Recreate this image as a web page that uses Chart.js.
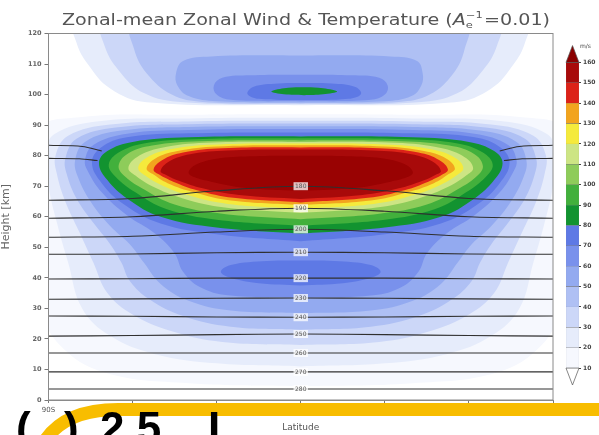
<!DOCTYPE html>
<html><head><meta charset="utf-8">
<script src="https://cdn.jsdelivr.net/npm/chart.js@4.4.1/dist/chart.umd.min.js"></script>
<style>
html,body{margin:0;padding:0;background:#fff;overflow:hidden;}
#wrap{position:relative;width:599px;height:435px;overflow:hidden;}
#main{position:absolute;left:0;top:0;}
#bar{position:absolute;left:556px;top:40px;}
</style></head><body>
<div id="wrap"><canvas id="main" width="599" height="435"></canvas><canvas id="bar" width="43" height="352"></canvas></div>
<script>
// Wind speed contour levels (m/s) and the shade used above each level
const windLevels = [10,20,30,40,50,60,70,80,90,100,110,120,130,140,150,160];
const levelColors = ['#f6f8fe','#e6ecfb','#ccd7f8','#afc0f4','#93aaf0','#7991ec','#5e79e5',
                     '#129330','#42b03c','#8ecc5a','#cde584','#f5ea3c','#f2a41e','#dc2218','#a80a0a','#990202'];
const latTicks = [-90,-60,-30,0,30,60,90];
const latTickLabels = ['90S','60S','30S','EQ','30N','60N','90N'];

// Contour outlines, [latitude (deg), height (km)]
// mesospheric jet
const jet80  = [[0,54.5],[-30,56.5],[-50,60],[-62,66],[-69,72],[-72,77.5],[-69,81.5],[-60,84.5],[-40,86],[0,86.3],[40,86],[60,84.5],[69,81.5],[72,77.5],[69,72],[62,66],[50,60],[30,56.5],[0,54.5]];
const jet90  = [[0,57],[-30,59],[-48,62.5],[-59,68],[-66,73],[-68.5,77],[-65,81],[-56,84],[-38,85.4],[0,85.7],[38,85.4],[56,84],[65,81],[68.5,77],[66,73],[59,68],[48,62.5],[30,59],[0,57]];
const jet100 = [[0,59.2],[-28,61],[-45,64],[-56,69],[-62.5,73],[-65,76.5],[-62,80.5],[-53,83.3],[-36,84.7],[0,85],[36,84.7],[53,83.3],[62,80.5],[65,76.5],[62.5,73],[56,69],[45,64],[28,61],[0,59.2]];
const jet110 = [[0,61.2],[-27,63],[-42,66],[-53,70],[-59,73.5],[-61.5,76],[-58.5,79.5],[-50,82.5],[-34,84.2],[0,84.5],[34,84.2],[50,82.5],[58.5,79.5],[61.5,76],[59,73.5],[53,70],[42,66],[27,63],[0,61.2]];
const jet120 = [[0,62.6],[-26,64.2],[-40,67],[-50,70.5],[-55.5,73.5],[-58,76],[-55,79.3],[-47,82],[-32,83.6],[0,84],[32,83.6],[47,82],[55,79.3],[58,76],[55.5,73.5],[50,70.5],[40,67],[26,64.2],[0,62.6]];
const jet130 = [[0,63.8],[-25,65.3],[-38,68],[-47.5,71],[-52.5,73.8],[-55,75.8],[-52,79],[-44,81.5],[-30,83],[0,83.4],[30,83],[44,81.5],[52,79],[55,75.8],[52.5,73.8],[47.5,71],[38,68],[25,65.3],[0,63.8]];
const jet140 = [[0,64.7],[-24,66.2],[-37,68.7],[-45.5,71.5],[-50.5,73.8],[-52.5,75.5],[-49.5,78.5],[-42,81],[-28,82.4],[0,82.7],[28,82.4],[42,81],[49.5,78.5],[52.5,75.5],[50.5,73.8],[45.5,71.5],[37,68.7],[24,66.2],[0,64.7]];
const jet150 = [[0,65.8],[-22,67.1],[-35,69.3],[-43.5,71.8],[-48,73.7],[-50,75],[-47,78.1],[-39.5,80.5],[-26,81.7],[0,82],[26,81.7],[39.5,80.5],[47,78.1],[50,75],[48,73.7],[43.5,71.8],[35,69.3],[22,67.1],[0,65.8]];
const jet160 = [[0,68.5],[-20,69.5],[-32,71.5],[-38,73],[-40,74.5],[-37.5,77],[-30,79],[-18,79.8],[0,80],[18,79.8],[30,79],[37.5,77],[40,74.5],[38,73],[32,71.5],[20,69.5],[0,68.5]];
// blue shell around the jet and the stratospheric maximum below it
const shell70 = [[0,52],[-30,54.3],[-50,57.8],[-63,64],[-71,71],[-74.5,77.5],[-71.5,82.5],[-62,86],[-40,87.3],[0,87.6],[40,87.3],[62,86],[71.5,82.5],[74.5,77.5],[71,71],[63,64],[50,57.8],[30,54.3],[0,52]];
const core70  = [[0,37.5],[-15,38.2],[-25,40],[-28.5,42],[-25,44.2],[-12,45.5],[0,45.7],[12,45.5],[25,44.2],[28.5,42],[25,40],[15,38.2],[0,37.5]];
const lower60 = [[0,33.5],[-26,34.3],[-36,37],[-42,42],[-45,48],[-52,54.5],[-62,60.5],[-71,68],[-76,75],[-77,78.5],[-74,83.5],[-62,87.2],[-40,88.4],[0,88.7],[40,88.4],[62,87.2],[74,83.5],[77,78.5],[76,75],[71,68],[62,60.5],[52,54.5],[45,48],[42,42],[36,37],[26,34.3],[0,33.5]];
const lower50 = [[0,28.4],[-25,29.3],[-40,32.5],[-50,38],[-56,45],[-61,51],[-68,57],[-75,65],[-79.5,73],[-80.5,78.5],[-77,84.5],[-64,88.2],[-40,89.4],[0,89.6],[40,89.4],[64,88.2],[77,84.5],[80.5,78.5],[79.5,73],[75,65],[68,57],[61,51],[56,45],[50,38],[40,32.5],[25,29.3],[0,28.4]];
const lower40 = [[0,23],[-25,24],[-42,27.5],[-54,33],[-61,39],[-64,45],[-68,51],[-74,58],[-80,66],[-83.5,74],[-84,79],[-80,85.5],[-66,89.2],[-40,90.3],[0,90.5],[40,90.3],[66,89.2],[80,85.5],[84,79],[83.5,74],[80,66],[74,58],[68,51],[64,45],[61,39],[54,33],[42,27.5],[25,24],[0,23]];
const lower30 = [[0,18],[-28,19],[-46,22.5],[-60,28],[-69,35],[-74,45],[-79,55],[-84,65],[-87,74],[-87.5,80],[-83,86.5],[-68,90.2],[-40,91.2],[0,91.4],[40,91.2],[68,90.2],[83,86.5],[87.5,80],[87,74],[84,65],[79,55],[74,45],[69,35],[60,28],[46,22.5],[28,19],[0,18]];
const lower20 = [[0,11],[-30,12],[-52,15],[-68,21],[-78,30],[-83,45],[-87,58],[-90,70],[-91,80],[-88,87],[-72,91.3],[-40,92.2],[0,92.4],[40,92.2],[72,91.3],[88,87],[91,80],[90,70],[87,58],[83,45],[78,30],[68,21],[52,15],[30,12],[0,11]];
const lower10 = [[0,4.5],[-40,5.5],[-70,9],[-86,18],[-92,30],[-93,88],[-80,92.5],[-40,93.4],[0,93.6],[40,93.4],[80,92.5],[93,88],[92,30],[86,18],[70,9],[40,5.5],[0,4.5]];
// lower thermosphere maximum
const upper20 = [[0,96.5],[-55,97.5],[-68,102],[-76,110],[-80,117],[-80.5,123],[80.5,123],[80,117],[76,110],[68,102],[55,97.5],[0,96.5]];
const upper30 = [[0,96.8],[-42,97.5],[-56,100.5],[-65,108],[-70,116],[-70.5,123],[70.5,123],[70,116],[65,108],[56,100.5],[42,97.5],[0,96.8]];
const upper40 = [[0,97.1],[-35,97.6],[-46,100],[-55,107],[-59.5,115],[-60,123],[59,123],[58.5,115],[54.5,107],[46,100],[35,97.6],[0,97.1]];
const upper50 = [[0,97.4],[-30,97.8],[-40,99.5],[-44,103],[-44.5,107],[-42,111],[-32,112.5],[0,112.8],[32,112.5],[41.5,111],[43.5,107],[43,103],[39.5,99.5],[30,97.8],[0,97.4]];
const upper60 = [[0,97.8],[-25,98.3],[-30,100],[-31,103],[-28,105.5],[-18,106.3],[0,106.5],[18,106.3],[28,105.5],[31,103],[30,100],[25,98.3],[0,97.8]];
const upper70 = [[1,98.2],[-15,98.6],[-19,100.2],[-17,102.5],[-8,103.6],[1,103.8],[11,103.6],[19.5,102.5],[21.5,100.2],[17,98.6],[1,98.2]];
const upper80 = [[1.2,99.8],[-6,100.1],[-10.5,101],[-6,102.1],[1.2,102.4],[8,102.1],[13,101],[8,100.1],[1.2,99.8]];

const windContours = [
  [10, lower10], [20, lower20], [20, upper20], [30, lower30], [30, upper30],
  [40, lower40], [40, upper40], [50, lower50], [50, upper50], [60, lower60], [60, upper60],
  [70, shell70], [70, core70], [70, upper70], [80, upper80], [80, jet80], [90, jet90],
  [100, jet100], [110, jet110], [120, jet120], [130, jet130], [140, jet140], [150, jet150], [160, jet160]
];

// Isotherms (K): heights (km) at the latitudes below
const isoLat = [-90,-60,-30,0,30,60,90];
const isoValues = [180,190,200,210,220,230,240,250,260,270,280];
const isoHeights = [
  [65.4,66,68.5,70,68.5,66,65.4],
  [59.5,60,61.8,62.8,61.8,60,59.5],
  [53.3,53.6,55,55.9,55,53.6,53.3],
  [47.7,47.8,48.2,48.4,48.2,47.8,47.7],
  [39.6,39.7,39.9,39.9,39.9,39.7,39.6],
  [33,33.1,33.3,33.4,33.3,33.1,33],
  [27.5,27.4,27.2,27.1,27.2,27.4,27.5],
  [20.9,21.1,21.4,21.6,21.4,21.1,20.9],
  [15.4,15.4,15.4,15.4,15.4,15.4,15.4],
  [9.2,9.2,9.2,9.2,9.2,9.2,9.2],
  [3.6,3.6,3.6,3.6,3.6,3.6,3.6]
];
// upper isotherms that end at the flanks of the jet
const iso160 = [[-90,83.4],[-78,83],[-71,81.5],null,[71,81.5],[78,83],[90,83.4]];
const iso170 = [[-90,79.1],[-79,79],[-72.5,78.4],null,[72.5,78.4],[79,79],[90,79.1]];

const colorOf = lev => levelColors[windLevels.indexOf(lev)];
const toPts = arr => arr.map(p => p ? {x: p[0], y: p[1]} : {x: 0, y: null});

const datasets = [];
windContours.forEach(([lev, outline]) => {
  datasets.push({
    label: 'wind ' + lev, data: toPts(outline), showLine: true, fill: 'shape',
    backgroundColor: colorOf(lev), borderColor: 'rgba(0,0,0,0)', borderWidth: 0,
    pointRadius: 0, tension: 0.4, order: 500 - lev
  });
});
const isoStyle = {showLine: true, fill: false, borderColor: '#303030', borderWidth: 1.1,
                  pointRadius: 0, tension: 0.35, order: 0};
isoHeights.forEach((hs, i) => {
  datasets.push(Object.assign({label: 'T ' + isoValues[i], data: hs.map((h, j) => ({x: isoLat[j], y: h}))}, isoStyle));
});
datasets.push(Object.assign({label: 'T 160', data: toPts(iso160)}, isoStyle));
datasets.push(Object.assign({label: 'T 170', data: toPts(iso170)}, isoStyle));

const FONT = "'DejaVu Sans', sans-serif";

// isotherm value boxes along the equator
const isoLabels = {
  id: 'isoLabels',
  afterDatasetsDraw(chart) {
    const {ctx, scales: {x, y}} = chart;
    ctx.save();
    ctx.font = '6px ' + FONT;
    ctx.textAlign = 'center';
    ctx.textBaseline = 'middle';
    isoValues.forEach((v, i) => {
      const px = x.getPixelForValue(0);
      const py = y.getPixelForValue(isoHeights[i][isoLat.indexOf(0)]);
      const w = ctx.measureText(String(v)).width + 3;
      ctx.fillStyle = 'rgba(255,255,255,0.75)';
      ctx.fillRect(px - w / 2, py - 4, w, 8);
      ctx.fillStyle = '#555';
      ctx.fillText(String(v), px, py + 0.5);
    });
    ctx.restore();
  }
};

// frame, title and the slide decoration along the bottom
const decor = {
  id: 'decor',
  afterDatasetsDraw(chart) {
    const {ctx, chartArea: a} = chart;
    ctx.save();
    ctx.strokeStyle = '#8a8a8a';
    ctx.lineWidth = 1;
    ctx.strokeRect(a.left, a.top, a.right - a.left, a.bottom - a.top);
    ctx.restore();
  },
  afterDraw(chart) {
    const {ctx} = chart;
    ctx.save();
    // title
    const big = '15px ' + FONT, ital = 'italic 15px ' + FONT, small = '9px ' + FONT;
    const p0 = 'Zonal-mean Zonal Wind & Temperature (', p4 = '=0.01)';
    ctx.font = big; const w0 = ctx.measureText(p0).width, w4 = ctx.measureText(p4).width;
    ctx.font = ital; const wA = ctx.measureText('A').width;
    ctx.font = small; const wS = Math.max(ctx.measureText('e').width, ctx.measureText('\u22121').width);
    const total = w0 + wA + wS + 1 + w4;
    ctx.translate(62, 25);
    ctx.scale(488 / total, 1);
    ctx.fillStyle = '#555';
    ctx.textBaseline = 'alphabetic';
    ctx.font = big; ctx.fillText(p0, 0, 0);
    ctx.font = ital; ctx.fillText('A', w0, 0);
    ctx.font = small; ctx.fillText('\u22121', w0 + wA, -7); ctx.fillText('e', w0 + wA, 3);
    ctx.font = big; ctx.fillText(p4, w0 + wA + wS + 1, 0);
    ctx.restore();

    // yellow sweep and heading text of the slide
    ctx.save();
    ctx.strokeStyle = '#f8bd00';
    ctx.lineWidth = 13;
    ctx.beginPath();
    ctx.moveTo(610, 409.5);
    ctx.lineTo(118, 409.5);
    ctx.bezierCurveTo(84, 409.5, 58, 420, 44, 442);
    ctx.stroke();
    ctx.fillStyle = '#000';
    ctx.font = 'bold 44px "Liberation Sans", sans-serif';
    ctx.textBaseline = 'alphabetic';
    ctx.fillText('(', 16, 443);
    ctx.fillText(')', 64, 443);
    ctx.fillText('2.5', 100, 443);
    ctx.fillText('L', 208, 443);
    ctx.restore();
  }
};

new Chart(document.getElementById('main'), {
  type: 'scatter',
  data: {datasets},
  options: {
    responsive: false, animation: false, spanGaps: false,
    layout: {padding: {top: 33.5, right: 46, bottom: 0, left: 0}},
    plugins: {legend: {display: false}, tooltip: {enabled: false}, title: {display: false}},
    scales: {
      x: {
        type: 'linear', min: -90, max: 90,
        afterBuildTicks: s => { s.ticks = latTicks.map(v => ({value: v})); },
        afterFit: s => { s.height = 35; },
        ticks: {font: {size: 7, family: FONT}, color: '#555', padding: 3,
                callback: v => latTickLabels[latTicks.indexOf(v)]},
        grid: {drawOnChartArea: false, tickLength: 3, color: '#777'},
        border: {color: '#8a8a8a'},
        title: {display: true, text: 'Latitude', font: {size: 9, family: FONT}, color: '#555', padding: {top: 0, bottom: 2}}
      },
      y: {
        min: 0, max: 120,
        afterFit: s => { s.width = 48.5; },
        ticks: {stepSize: 10, font: {size: 6.5, family: FONT, weight: 'bold'}, color: '#666', padding: 3},
        grid: {drawOnChartArea: false, tickLength: 4, color: '#777'},
        border: {color: '#8a8a8a'},
        title: {display: true, text: 'Height [km]', font: {size: 11, family: FONT}, color: '#666', padding: {top: 0, bottom: 6}}
      }
    }
  },
  plugins: [isoLabels, decor]
});

// colour bar
const barEnds = {
  id: 'barEnds',
  afterDatasetsDraw(chart) {
    const {ctx, chartArea: a, scales: {y}} = chart;
    const top160 = y.getPixelForValue(windLevels[windLevels.length - 1]);
    const bot10 = y.getPixelForValue(windLevels[0]);
    const mid = (a.left + a.right) / 2;
    ctx.save();
    ctx.lineWidth = 0.7;
    ctx.strokeStyle = '#555';
    ctx.fillStyle = '#8a0000';
    ctx.beginPath();
    ctx.moveTo(a.left, top160); ctx.lineTo(mid, a.top); ctx.lineTo(a.right, top160); ctx.closePath();
    ctx.fill(); ctx.stroke();
    ctx.fillStyle = '#ffffff';
    ctx.beginPath();
    ctx.moveTo(a.left, bot10); ctx.lineTo(mid, a.bottom); ctx.lineTo(a.right, bot10); ctx.closePath();
    ctx.fill(); ctx.stroke();
    ctx.fillStyle = '#444';
    ctx.font = '6px ' + FONT;
    ctx.textBaseline = 'middle';
    ctx.fillText('m/s', a.right + 1, a.top + 1);
    ctx.restore();
  }
};
new Chart(document.getElementById('bar'), {
  type: 'bar',
  data: {
    labels: [''],
    datasets: windLevels.slice(0, -1).map((lev, i) => ({
      data: [[lev, windLevels[i + 1]]], backgroundColor: levelColors[i],
      borderColor: '#777', borderWidth: 0.4, borderSkipped: false,
      barPercentage: 1, categoryPercentage: 1, grouped: false
    }))
  },
  options: {
    responsive: false, animation: false,
    layout: {padding: {left: 10, top: 5, bottom: 7, right: 0}},
    plugins: {legend: {display: false}, tooltip: {enabled: false}},
    scales: {
      x: {display: false},
      y: {
        position: 'right', min: 1.7, max: 168.3,
        afterBuildTicks: s => { s.ticks = windLevels.map(v => ({value: v})); },
        afterFit: s => { s.width = 20; },
        ticks: {font: {size: 6, family: FONT, weight: 'bold'}, color: '#444', padding: 2},
        grid: {drawOnChartArea: false, tickLength: 2, color: '#444'},
        border: {display: false}
      }
    }
  },
  plugins: [barEnds]
});
</script>
</body></html>
